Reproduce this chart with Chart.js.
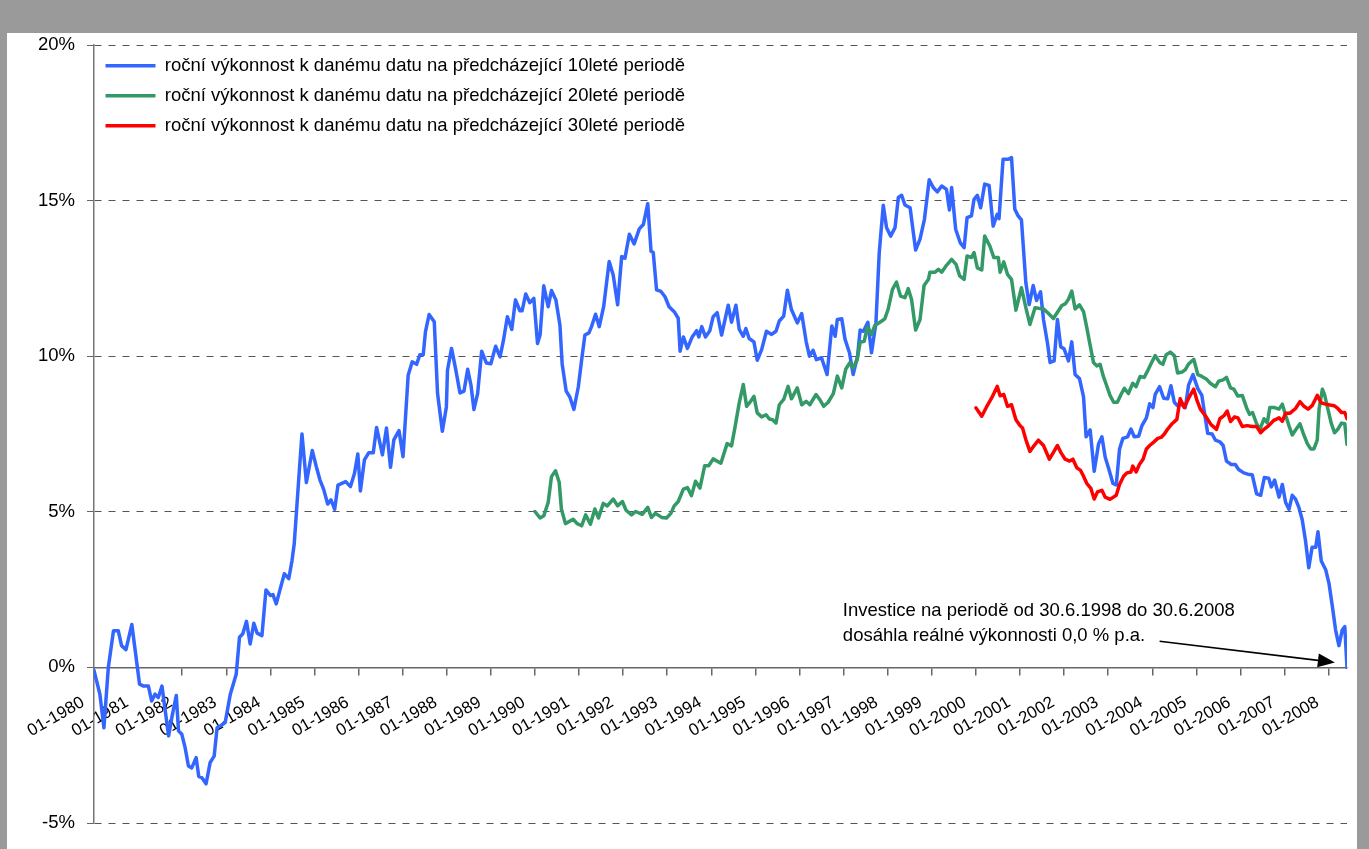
<!DOCTYPE html>
<html lang="cs">
<head>
<meta charset="UTF-8">
<title>Roční výkonnost na předcházející periodě</title>
<script src="https://cdn.jsdelivr.net/npm/chart.js"></script>
<style>
  html, body { margin: 0; padding: 0; }
  body { width: 1369px; height: 849px; background: #9a9a9a; overflow: hidden; }
  #frame { position: absolute; left: 7px; top: 33px; width: 1350px; height: 816px; background: #fff; }
</style>
</head>
<body>
<div id="frame"><canvas id="chart" width="1350" height="816"></canvas></div>
<script>
// month index 0 = 01-1980, 341 = 06-2008; values in % p.a.
const yearLabels = [];
for (let y = 1980; y <= 2008; y++) yearLabels.push('01-' + y);

const seriesNames = [
  'roční výkonnost k danému datu na předcházející 10leté periodě',
  'roční výkonnost k danému datu na předcházející 20leté periodě',
  'roční výkonnost k danému datu na předcházející 30leté periodě'
];

const blueMonths = [0,1.6,2.7,3.9,5.3,6.6,7.5,8.7,10.3,12.4,13.5,14.8,15.7,16.6,17.5,18.5,19.4,20.3,21.2,22.4,23,23.9,24.8,25.7,26.6,27.8,28.5,29.4,30.5,31.6,32.7,33.5,34.4,35.7,37.1,38.7,39.6,40.5,41.5,42.5,43.5,44.4,45.7,46.8,48,48.7,49.6,50.7,51.8,53,53.9,54.5,55.7,56.6,57.8,59.4,60.5,61.5,62.5,63.6,64.5,65.5,66.4,68.5,69.8,70.9,71.8,72.5,73.6,74.8,76,76.9,78.5,79.6,80.7,81.6,83,84.1,85.5,86.6,87.8,88.7,89.6,90.2,91.2,92.6,93.5,94.8,95.9,96.2,97.3,98.4,99.6,100.7,101.7,102.6,103.4,104.4,105.5,106.8,108,109.3,110.5,111.4,112.5,113.7,114.7,115.9,116.5,117.5,118.6,119.7,120.7,121.4,122.4,123.6,124.5,125.7,126.8,127.4,128.5,129.5,130.6,131.8,132.7,133.6,134.7,135.4,136.5,137.5,138.7,140.2,141.3,142.5,143.6,144.5,145.7,147,148.4,149.5,150.7,151.6,152.2,153.1,154.3,155.4,156.5,157.9,159,159.5,160.4,161.5,162.8,164,164.6,165.4,166.4,167.6,168.5,169.6,170.8,172.6,173.5,174.7,175.6,176.7,177.4,178.3,179.6,180.5,181.7,183,184.4,185.6,186.5,187.7,188.7,189.8,191.4,192.6,193.8,194.7,195.7,196.6,198,199.5,200.8,201.7,202.3,203.5,204.4,205.6,206.6,207.8,208.5,209.4,210.6,211.6,212.8,213.7,214.8,215.7,216.8,218,218.9,219.8,220.7,222.1,223.6,224.8,226,227.3,228.4,229.5,230.7,232,232.8,233.4,234.5,235.8,236.8,237.6,238.8,239.5,240.4,241.3,242.4,243.6,244.7,245.8,246.3,247.4,248.8,249.7,250.6,251.5,252.4,253.6,254.5,255.6,256.5,257.6,258.4,259.5,260.2,261.3,262.2,263.1,264,265.2,266.1,267,268.2,269.3,270,271.1,272.2,273.4,274.3,275.2,276.1,277.3,278.2,279.1,280,281.3,282.2,283.1,284.3,285.2,286.4,287.3,288.2,288.8,290,291.1,292.2,293.1,294,294.9,295.8,297,297.9,299.1,300.4,301.5,302.2,303.1,304.3,305.2,306.4,307.3,308.2,309.5,310.6,311.5,312.9,314,315.2,316.4,317.5,318.5,319.7,320.4,321.3,322.5,323.4,324.3,325.2,326.1,327,327.9,328.8,329.7,330.6,331.5,332.5,333.1,334,335.2,336.1,337,337.9,338.8,339.7,340.4,341];
const blueValues = [-0.1,-0.86,-1.94,0,1.18,1.18,0.7,0.57,1.38,-0.54,-0.6,-0.6,-1.08,-0.86,-0.97,-0.6,-1.4,-2.2,-1.6,-0.9,-2.04,-2.15,-2.58,-3.17,-3.23,-2.9,-3.5,-3.55,-3.74,-3.06,-2.85,-1.94,-1.88,-1.77,-0.86,-0.22,0.97,1.08,1.48,0.75,1.42,1.1,1.02,2.49,2.31,2.34,2.04,2.53,3.01,2.85,3.44,3.98,6.02,7.5,5.94,6.97,6.45,6.02,5.72,5.25,5.38,5.08,5.86,5.97,5.81,6.24,6.86,5.67,6.67,6.9,6.9,7.71,6.83,7.69,6.43,7.31,7.61,6.77,9.39,9.82,9.74,10.05,10.05,10.78,11.34,11.11,8.8,7.59,8.37,9.55,10.25,9.6,8.82,8.88,9.58,9.06,8.29,8.8,10.16,9.78,9.76,10.32,9.98,10.49,11.27,10.86,11.81,11.46,11.46,12,11.72,11.86,10.41,10.68,12.26,11.59,12.11,11.81,11,9.76,8.88,8.69,8.29,9.01,9.87,10.68,10.75,10.95,11.35,10.95,11.59,13.04,12.61,11.65,13.2,13.15,13.92,13.61,14.09,14.23,14.9,13.37,13.33,12.13,12.08,11.91,11.59,11.43,11.22,10.16,10.62,10.25,10.62,10.82,10.62,10.95,10.62,10.82,11.27,11.4,10.68,11.64,11.09,11.64,10.86,10.64,10.89,10.57,10.46,9.87,10.21,10.8,10.7,10.8,11.13,11.29,12.12,11.5,11.07,11.37,10.48,10,10.19,9.89,9.95,9.41,10.97,10.64,11.18,11.2,10.54,10.11,9.41,10,10.84,10.8,11.09,10.11,11.07,13.33,14.85,14.13,13.86,14.13,15.1,15.17,14.86,14.77,13.41,13.76,14.4,15.67,15.42,15.28,15.47,15.36,14.7,15.42,14.08,13.63,13.49,14.45,14.51,15.04,15.17,14.77,15.53,15.49,14.18,14.56,14.42,16.33,16.33,16.38,14.72,14.51,14.38,12.36,11.66,12.27,11.79,12.07,11.18,10.41,9.8,9.85,11.18,10.3,10.24,9.85,10.46,9.41,9.28,8.69,7.41,7.63,6.3,7.19,7.41,6.75,6.41,5.91,5.86,7.02,7.36,7.41,7.66,7.41,7.43,7.77,8.02,8.47,8.35,8.77,9.02,8.65,8.63,9.05,8.52,8.41,8.47,8.35,9.08,9.41,8.96,8.74,8.19,7.52,7.5,7.3,7.25,7.13,6.63,6.52,6.52,6.36,6.25,6.21,6.19,5.58,5.53,6.1,6.08,5.8,6.02,5.47,5.88,5.3,5.08,5.53,5.41,5.14,4.75,4.08,3.2,3.86,3.86,4.36,3.42,3.14,2.7,1.97,1.2,0.7,1.2,1.31,0];

const greenMonths = [120,121.4,122.4,123.6,124.5,125.6,126.6,127.2,128.3,130.4,131.5,132.7,133.8,135.1,136.3,137.3,138.6,139.7,141.3,142.5,143.8,144.8,146.3,147.4,149.2,150.7,151.7,152.8,154.5,155.8,157,157.9,159,160.4,161.5,162.6,163.7,164.9,166.2,167.3,168.5,170.6,172.3,173.5,174.4,175.6,176.7,177.6,178.7,179.6,180.5,181.7,182.9,183.8,184.7,185.6,186.5,187.7,188.9,189.8,191.4,192.6,193.8,194.8,196.5,197.5,198.6,199.8,201.2,202.3,203.5,204.6,205.7,206.6,207.7,208.5,209.6,210.5,211.6,212.5,213.9,215.2,216.1,217.3,218.4,219.5,220.7,221.6,222.5,223.6,224.8,225.9,227.1,227.5,228.9,229.8,230.7,232,233.4,234.6,235.6,236.8,237.6,238.8,239.5,240.4,241.6,242.4,243.8,244.9,246.1,246.6,247.6,248.6,249.7,250.9,252.4,253.6,254.7,256.1,257,258.4,259.7,261.1,262.2,263.4,264.3,265.2,266.1,267,268.2,269.3,270.2,271.1,272,272.9,273.8,274.7,275.6,276.5,277.5,278.5,279.5,280.4,281.5,282.7,283.6,284.7,285.8,286.7,287.6,288.8,290,290.9,291.8,292.9,294,294.9,296.1,297,297.9,299.3,300.4,301.5,302.7,303.8,305.2,306.1,307.3,308.2,309.3,310.2,311.3,312.5,313.8,314.5,315.3,316.4,317.3,318.4,319.3,320,321.3,322.5,323.4,324.3,325.2,326.1,327,328.2,329.1,330.2,331.1,332,332.9,333.4,334.3,334.9,335.8,336.7,337.6,338.5,339.5,340.4,341];
const greenValues = [5.01,4.8,4.87,5.3,6.13,6.32,5.95,5.09,4.62,4.76,4.62,4.55,4.9,4.6,5.09,4.8,5.27,5.19,5.41,5.19,5.33,5.05,4.9,5.01,4.92,5.14,4.82,4.95,4.82,4.8,4.95,5.19,5.33,5.73,5.78,5.52,5.98,5.76,6.48,6.48,6.7,6.56,7.19,7.12,7.69,8.5,9.09,8.39,8.55,8.71,8.18,8.05,8.12,7.98,7.96,7.85,8.44,8.61,9.03,8.63,8.98,8.44,8.55,8.44,8.77,8.61,8.39,8.52,8.8,9.36,8.98,9.59,9.79,9.62,9.89,10.45,10.48,10.94,10.7,10.99,11.09,11.2,11.5,12.15,12.38,11.93,11.88,12.17,11.82,10.84,11.18,12.27,12.47,12.7,12.7,12.79,12.7,12.92,13.11,12.95,12.58,12.47,13.22,13.17,13.33,12.84,12.77,13.86,13.54,13.17,13.17,12.7,13.03,12.63,12.47,11.48,12.2,11.56,11.02,11.56,11.54,11.52,11.38,11.21,11.41,11.63,11.68,11.83,12.09,11.52,11.65,11.43,10.91,10.35,9.8,9.69,9.74,9.35,9.05,8.74,8.52,8.52,8.77,8.97,8.8,9.13,9.02,9.35,9.32,9.52,9.74,10.02,9.8,9.74,10.05,10.13,10.02,9.46,9.49,9.57,9.75,9.9,9.41,9.35,9.27,9.13,9.02,9.2,9.24,9.32,8.98,8.94,8.72,8.74,8.3,8.13,8.19,7.83,7.65,7.99,7.86,8.35,8.35,8.3,8.46,8.1,7.77,7.47,7.63,7.83,7.52,7.19,7.02,7.02,7.3,8.3,8.94,8.76,8.3,7.85,7.54,7.65,7.85,7.83,7.17];

const redMonths = [240,241.6,242.9,244.3,245.8,246.6,247.6,248.6,249.7,250.9,252,252.7,253.6,254.7,255.8,257,258.4,260,261.1,262.2,263.1,264.3,265.5,266.4,267.5,268.5,269.3,270.2,271.3,272.2,273.1,274.3,275.2,276.5,278.2,279.1,280.2,281.1,282.2,282.7,283.6,284.5,285.5,286.4,287.3,288.4,289.5,290.4,291.3,292.2,293.4,294.7,295.6,296.7,297.9,299.3,300.2,301.1,302.5,304,305.5,306.4,307.6,308.4,309.3,310.4,311.3,312.5,313.8,315.2,316.4,317.5,318.4,319.7,321.1,322.5,323.4,324.3,325.5,327,328.2,329.3,330.4,331.5,332.9,334,335.2,336.4,337.5,338.5,339.5,340.4,341];
const redValues = [8.34,8.07,8.37,8.66,9.03,8.73,8.77,8.39,8.44,7.96,7.77,7.69,7.32,6.94,7.12,7.3,7.13,6.69,6.91,7.13,6.91,6.69,6.63,6.69,6.41,6.33,6.14,5.91,5.75,5.41,5.64,5.69,5.47,5.4,5.53,5.88,6.14,6.25,6.28,6.47,6.28,6.52,6.69,7.02,7.13,7.24,7.36,7.39,7.5,7.66,7.83,7.97,8.63,8.35,8.65,8.94,8.57,8.3,8.08,7.8,7.65,7.99,8.1,8.24,7.9,8.05,8.02,7.74,7.77,7.74,7.74,7.54,7.65,7.77,7.94,8.02,7.91,8.17,8.17,8.32,8.54,8.39,8.3,8.41,8.74,8.5,8.46,8.43,8.41,8.32,8.19,8.19,7.99];

const noteLines = [
  'Investice na periodě od 30.6.1998 do 30.6.2008',
  'dosáhla reálné výkonnosti 0,0 % p.a.'
];
const noteAt = { month: 203.8, value: 1.83 };
const arrowFrom = { month: 290, value: 0.84 };
const arrowTo = { month: 337.7, value: 0.16 };

const FONT = '"Liberation Sans", Arial, sans-serif';
Chart.defaults.font.family = FONT;
Chart.defaults.font.size = 18.5;
Chart.defaults.color = '#000';

function points(xs, ys) {
  return xs.map((m, i) => ({ x: m, y: ys[i] }));
}

const notePlugin = {
  id: 'note',
  afterDatasetsDraw(chart) {
    const { ctx, scales: { x, y } } = chart;
    ctx.save();
    ctx.font = '18.5px ' + FONT;
    ctx.fillStyle = '#000';
    ctx.textBaseline = 'middle';
    const tx = x.getPixelForValue(noteAt.month);
    const ty = y.getPixelForValue(noteAt.value);
    noteLines.forEach((t, i) => ctx.fillText(t, tx, ty + i * 25));

    const x1 = x.getPixelForValue(arrowFrom.month), y1 = y.getPixelForValue(arrowFrom.value);
    const x2 = x.getPixelForValue(arrowTo.month), y2 = y.getPixelForValue(arrowTo.value);
    const a = Math.atan2(y2 - y1, x2 - x1);
    const len = 17, half = 7;
    const bx = x2 - len * Math.cos(a), by = y2 - len * Math.sin(a);
    ctx.strokeStyle = '#000';
    ctx.lineWidth = 1.6;
    ctx.beginPath();
    ctx.moveTo(x1, y1);
    ctx.lineTo(bx, by);
    ctx.stroke();
    ctx.beginPath();
    ctx.moveTo(x2, y2);
    ctx.lineTo(bx + half * Math.sin(a), by - half * Math.cos(a));
    ctx.lineTo(bx - half * Math.sin(a), by + half * Math.cos(a));
    ctx.closePath();
    ctx.fill();
    ctx.restore();
  }
};

const lineStyle = { borderWidth: 3.5, pointRadius: 0, tension: 0, fill: false, borderJoinStyle: 'round', borderCapStyle: 'round' };

new Chart(document.getElementById('chart'), {
  type: 'line',
  data: {
    datasets: [
      { label: seriesNames[0], data: points(blueMonths, blueValues), borderColor: '#3366ff', backgroundColor: '#3366ff', order: 2, ...lineStyle },
      { label: seriesNames[1], data: points(greenMonths, greenValues), borderColor: '#339966', backgroundColor: '#339966', order: 1, ...lineStyle },
      { label: seriesNames[2], data: points(redMonths, redValues), borderColor: '#ff0000', backgroundColor: '#ff0000', order: 0, ...lineStyle }
    ]
  },
  options: {
    responsive: false,
    animation: false,
    devicePixelRatio: 1,
    layout: { padding: { left: 0, top: 12, right: 10, bottom: 26 } },
    plugins: {
      tooltip: { enabled: false },
      legend: {
        position: 'chartArea',
        align: 'start',
        title: { display: true, text: ' ', padding: 0, font: { size: 10 } },
        labels: {
          usePointStyle: true,
          pointStyle: 'line',
          pointStyleWidth: 50,
          boxHeight: 18,
          padding: 11.5,
          color: '#000',
          font: { size: 18.5 },
          sort: (a, b) => a.datasetIndex - b.datasetIndex
        }
      }
    },
    scales: {
      x: {
        type: 'linear',
        min: 0,
        max: 341,
        position: { y: 0 },
        grid: { drawOnChartArea: false, drawTicks: true, tickLength: 7, color: '#666', lineWidth: 1.5 },
        border: { color: '#666', width: 1.5 },
        ticks: {
          stepSize: 12,
          includeBounds: false,
          autoSkip: false,
          minRotation: 30,
          maxRotation: 30,
          padding: 18,
          labelOffset: -11,
          font: { size: 17 },
          callback: v => yearLabels[Math.round(v / 12)]
        }
      },
      y: {
        min: -5,
        max: 20,
        afterFit: s => { s.width = 87; s.paddingTop = 0; s.paddingBottom = 0; },
        grid: { color: '#555', lineWidth: 1, tickLength: 7, tickColor: '#666' },
        border: { color: '#777', width: 1.5, dash: [7, 7] },
        ticks: { stepSize: 5, padding: 12, callback: v => v + '%' }
      }
    }
  },
  plugins: [notePlugin]
});
</script>
</body>
</html>
